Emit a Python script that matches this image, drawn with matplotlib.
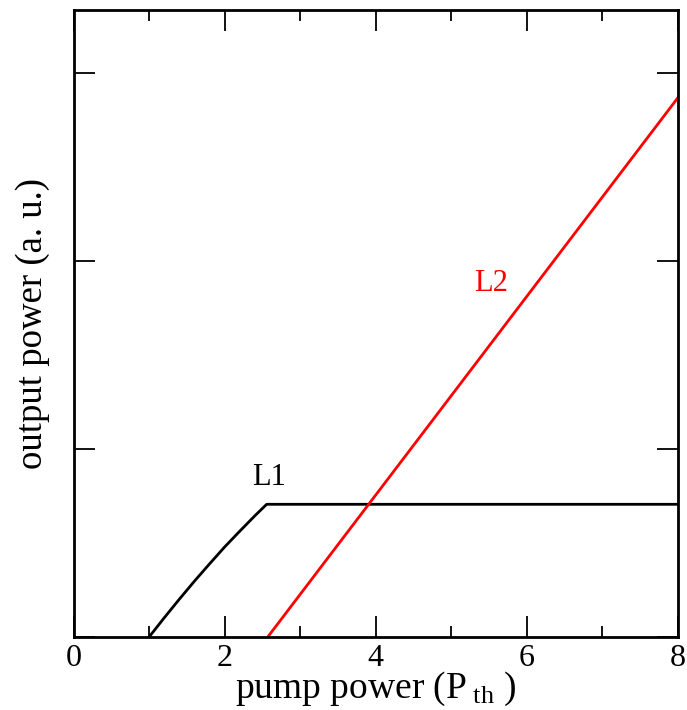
import matplotlib
matplotlib.use("Agg")
import matplotlib.pyplot as plt
from matplotlib.ticker import MultipleLocator, NullFormatter

plt.rcParams['font.family'] = ['Liberation Serif', 'DejaVu Serif']
plt.rcParams['mathtext.fontset'] = 'custom'
plt.rcParams['mathtext.rm'] = 'Liberation Serif'
plt.rcParams['mathtext.it'] = 'Liberation Serif:italic'

# Laser L1: turns on at threshold, then clamps once L2 starts lasing
l1_pump = [1.0, 1.2, 1.4, 1.6, 1.8, 2.0, 2.2, 2.4, 2.556, 8.0]
l1_out = [0.0, 0.102, 0.201, 0.297, 0.389, 0.479, 0.563, 0.645, 0.706, 0.706]

# Laser L2: turns on where L1 clamps
l2_pump = [2.57, 8.0]
l2_out = [0.0, 2.87]

x_ticks = [0, 2, 4, 6, 8]
y_ticks = [0, 1, 2, 3]

fig = plt.figure(figsize=(6.87, 7.10), dpi=100)
ax = fig.add_axes([0.107, 0.1028, 0.880, 0.883])

ax.plot(l1_pump, l1_out, color='black', lw=2.0)
ax.plot(l2_pump, l2_out, color='#ff0000', lw=2.0)

ax.text(2.586, 0.846, 'L1', fontsize=22, ha='center', va='center', color='black')
ax.text(5.52, 1.883, 'L2', fontsize=22, ha='center', va='center', color='#ff0000')

ax.set_xlim(0, 8)
ax.set_ylim(0, 3.335)
ax.set_xticks(x_ticks)
ax.set_yticks(y_ticks)
ax.yaxis.set_major_formatter(NullFormatter())
ax.xaxis.set_minor_locator(MultipleLocator(1))

ax.tick_params(which='both', direction='in', top=True, right=True, width=1.3)
ax.tick_params(which='major', length=15, labelsize=23, pad=5)
ax.tick_params(which='minor', length=8)
for s in ax.spines.values():
    s.set_linewidth(2.0)

ax.set_xlabel(r'pump power (P$_{\ \mathrm{th}}$ )', fontsize=27, labelpad=-2)
ax.set_ylabel('output power (a. u.)', fontsize=26.5, labelpad=12)

fig.savefig('out.png', dpi=100)
